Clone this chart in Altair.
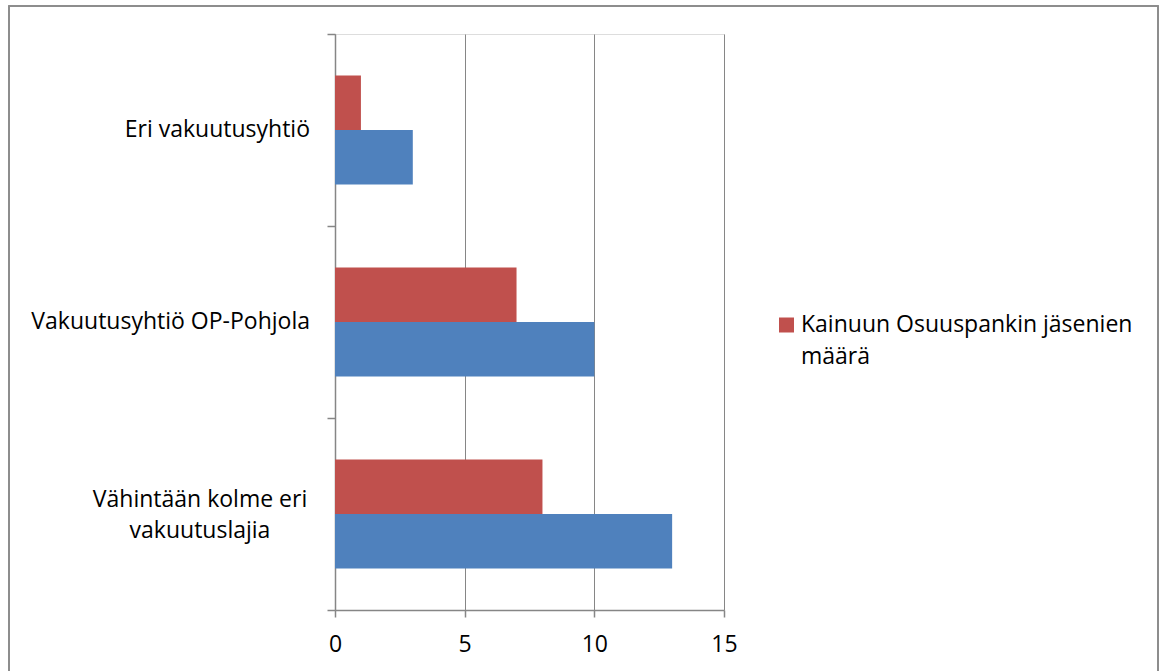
import altair as alt
import pandas as pd

categories = ["Eri vakuutusyhtiö", "Vakuutusyhtiö OP-Pohjola", "Vähintään kolme eri vakuutuslajia"]
series_red = "Kainuun Osuuspankin jäsenien määrä"
series_blue = "Sarja 1"
red_values = [1, 7, 8]
blue_values = [3, 10, 13]
x_ticks = [0, 5, 10, 15]

rows = []
for c, r, b in zip(categories, red_values, blue_values):
    rows.append({"cat": c, "series": series_red, "value": r})
    rows.append({"cat": c, "series": series_blue, "value": b})
df = pd.DataFrame(rows)
labels_df = pd.DataFrame({"cat": categories})
legend_df = pd.DataFrame({"series": [series_red]})

FONT = "Open Sans"
FS = 23
GRAY = "#868686"
RED = "#C0504D"
BLUE = "#4F81BD"

yscale = alt.Scale(domain=categories, paddingInner=0, paddingOuter=0)
cscale = alt.Scale(domain=[series_red, series_blue], range=[RED, BLUE])

bars = alt.Chart(df).mark_bar().encode(
    x=alt.X("value:Q", scale=alt.Scale(domain=[0, 15], nice=False),
            axis=alt.Axis(values=x_ticks, title=None, grid=True, gridColor=GRAY, gridWidth=1,
                          domainColor=GRAY, domainWidth=1.5, tickColor=GRAY, tickSize=7, tickWidth=1.5,
                          labelFont=FONT, labelFontSize=FS, labelColor="black", labelPadding=16,
                          labelFlush=False)),
    y=alt.Y("cat:N", scale=yscale, sort=categories,
            axis=alt.Axis(title=None, labels=False, tickBand="extent", domainColor=GRAY, domainWidth=1.5,
                          tickColor=GRAY, tickSize=8, tickWidth=1.5, grid=False)),
    yOffset=alt.YOffset("series:N", sort=[series_red, series_blue],
                        scale=alt.Scale(paddingInner=0, paddingOuter=0.76)),
    color=alt.Color("series:N", scale=cscale, legend=None),
)

single = alt.Chart(labels_df).transform_filter(
    alt.datum.cat != categories[2]
).mark_text(align="right", baseline="alphabetic", dy=7, font=FONT, fontSize=FS, color="black").encode(
    y=alt.Y("cat:N", scale=yscale, sort=categories),
    x=alt.value(-25),
    text="cat:N",
)

wrapped = alt.Chart(labels_df).transform_filter(
    alt.datum.cat == categories[2]
).transform_calculate(
    lbl="['Vähintään kolme eri', 'vakuutuslajia']"
).mark_text(align="center", baseline="alphabetic", dy=-7, font=FONT, fontSize=FS, color="black",
            lineHeight=31).encode(
    y=alt.Y("cat:N", scale=yscale, sort=categories),
    x=alt.value(-135),
    text="lbl:N",
)

legend_sym = alt.Chart(legend_df).mark_square(size=225, opacity=1).encode(
    x=alt.value(451.5), y=alt.value(291),
    color=alt.Color("series:N", scale=cscale, legend=None),
)
legend_txt = alt.Chart(legend_df).transform_calculate(
    lbl="['Kainuun Osuuspankin jäsenien', 'määrä']"
).mark_text(align="left", baseline="alphabetic", font=FONT, fontSize=FS, color="black", lineHeight=32).encode(
    x=alt.value(466), y=alt.value(298),
    text="lbl:N",
)

border = alt.Chart(labels_df).mark_rect(fill=None, stroke="#8c8c8c", strokeWidth=1.5, clip=False).encode(
    x=alt.value(-326), x2=alt.value(823), y=alt.value(-28), y2=alt.value(660)
)

chart = alt.layer(border, bars, single, wrapped, legend_sym, legend_txt).properties(
    width=389, height=576,
    autosize=alt.AutoSizeParams(type="none"),
    padding={"left": 335, "top": 34, "right": 442, "bottom": 61},
).configure_view(stroke=None).configure(background="white")

chart.save("out.html", embed_options={"renderer": "svg", "actions": False})
